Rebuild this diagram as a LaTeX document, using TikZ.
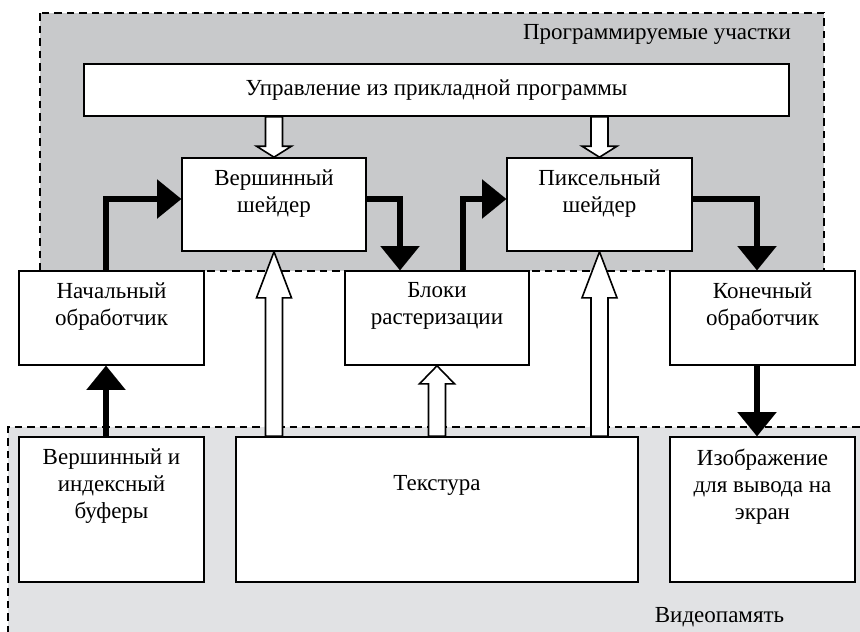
\documentclass[tikz,border=0pt]{standalone}
\usepackage{fontspec}
\setmainfont{Liberation Serif}
\usetikzlibrary{arrows.meta,calc}
\definecolor{topgray}{RGB}{200,201,203}
\definecolor{botgray}{RGB}{225,226,228}
\pgfdeclarelayer{bg}\pgfdeclarelayer{arr}\pgfsetlayers{bg,arr,main}
\newcommand\fs{\fontsize{23}{27}\selectfont}
\tikzset{
  box/.style={draw, line width=1.6pt, fill=white, inner sep=0pt},
  txt/.style={align=center, font=\fs, inner sep=0pt},
  dsh/.style={draw, line width=1.5pt, dash pattern=on 7.5pt off 5pt},
  openarr/.style={draw, line width=1.6pt, fill=white, line join=miter},
  blk/.style={line width=6.5pt, line join=miter,
    -{Triangle[length=24pt,width=39pt,line width=0.01pt]}},
}
\newcommand\OpenArrUp[3]{%
  \begin{pgfonlayer}{arr}
  \draw[openarr] let \p1=(#1), \p2=(#2) in
    (\x2-8.5pt,\y1) -- (\x2-8.5pt,\y2-#3) -- (\x2-17.5pt,\y2-#3) -- (\x2,\y2)
    -- (\x2+17.5pt,\y2-#3) -- (\x2+8.5pt,\y2-#3) -- (\x2+8.5pt,\y1) -- cycle;
  \end{pgfonlayer}}
\newcommand\OpenArrDown[3]{%
  \begin{pgfonlayer}{arr}
  \draw[openarr] let \p1=(#1), \p2=(#2) in
    (\x2-8.5pt,\y1) -- (\x2-8.5pt,\y2+#3) -- (\x2-17.5pt,\y2+#3) -- (\x2,\y2)
    -- (\x2+17.5pt,\y2+#3) -- (\x2+8.5pt,\y2+#3) -- (\x2+8.5pt,\y1) -- cycle;
  \end{pgfonlayer}}
\begin{document}
\begin{tikzpicture}[x=1pt,y=-1pt]
\useasboundingbox (0,0) rectangle (860,632);
\begin{pgfonlayer}{bg}
  \fill[topgray] (40,13) rectangle (824,271);
  \draw[dsh] (40,13) rectangle (824,271);
  \fill[botgray] (8,427) rectangle (861,633);
  \draw[dsh] (8,633) -- (8,427) -- (861,427);
\end{pgfonlayer}

\node[txt, anchor=base east] (progl) at (791,39.5) {Программируемые участки};
\node[txt, anchor=base] (vmeml) at (719.5,622) {Видеопамять};

\node[box, txt, minimum width=705, minimum height=52] (ctrl) at (436.5,90)
  {Управление из прикладной программы};

\node[box, minimum width=184, minimum height=93,
  label={[txt, anchor=north, yshift=-12.5pt]north:Вершинный\\шейдер}] (vs) at (274,204.5) {};
\node[box, minimum width=185, minimum height=93,
  label={[txt, anchor=north, yshift=-12.5pt]north:Пиксельный\\шейдер}] (ps) at (599.5,204.5) {};

\node[box, minimum width=185, minimum height=94,
  label={[txt, anchor=north, yshift=-12.5pt]north:Начальный\\обработчик}] (init) at (111.5,318) {};
\node[box, minimum width=184, minimum height=94,
  label={[txt, anchor=north, yshift=-12.5pt]north:Блоки\\растеризации}] (rast) at (437,318) {};
\node[box, minimum width=185, minimum height=94,
  label={[txt, anchor=north, yshift=-12.5pt]north:Конечный\\обработчик}] (fin) at (762.5,318) {};

\node[box, minimum width=185, minimum height=145,
  label={[txt, anchor=north, yshift=-12.5pt]north:Вершинный и\\индексный\\буферы}] (buf) at (111.5,509.5) {};
\node[box, minimum width=402, minimum height=145,
  label={[txt, anchor=north, yshift=-39.5pt]north:Текстура}] (tex) at (437,509.5) {};
\node[box, minimum width=185, minimum height=145,
  label={[txt, anchor=north, yshift=-12.5pt]north:Изображение\\для вывода на\\экран}] (img) at (762.5,509.5) {};

\OpenArrDown{ctrl.south -| vs.north}{vs.north}{11pt}
\OpenArrDown{ctrl.south -| ps.north}{ps.north}{11pt}
\OpenArrUp{tex.north -| vs.south}{vs.south}{46pt}
\OpenArrUp{tex.north -| ps.south}{ps.south}{46pt}
\OpenArrUp{tex.north -| rast.south}{rast.south}{18pt}

\begin{pgfonlayer}{arr}
\draw[blk] ([xshift=-5.5pt]buf.north) -- ([xshift=-5.5pt]init.south);
\draw[blk] ([xshift=-5.5pt]init.north) |- ([yshift=5.5pt]vs.west);
\draw[blk] ([yshift=5.5pt]vs.east) -| ([xshift=-37pt]rast.north);
\draw[blk] ([xshift=26pt]rast.north) |- ([yshift=5.5pt]ps.west);
\draw[blk] ([yshift=5.5pt]ps.east) -| ([xshift=-5.5pt]fin.north);
\draw[blk] ([xshift=-5.5pt]fin.south) -- ([xshift=-5.5pt]img.north);
\end{pgfonlayer}
\end{tikzpicture}
\end{document}
